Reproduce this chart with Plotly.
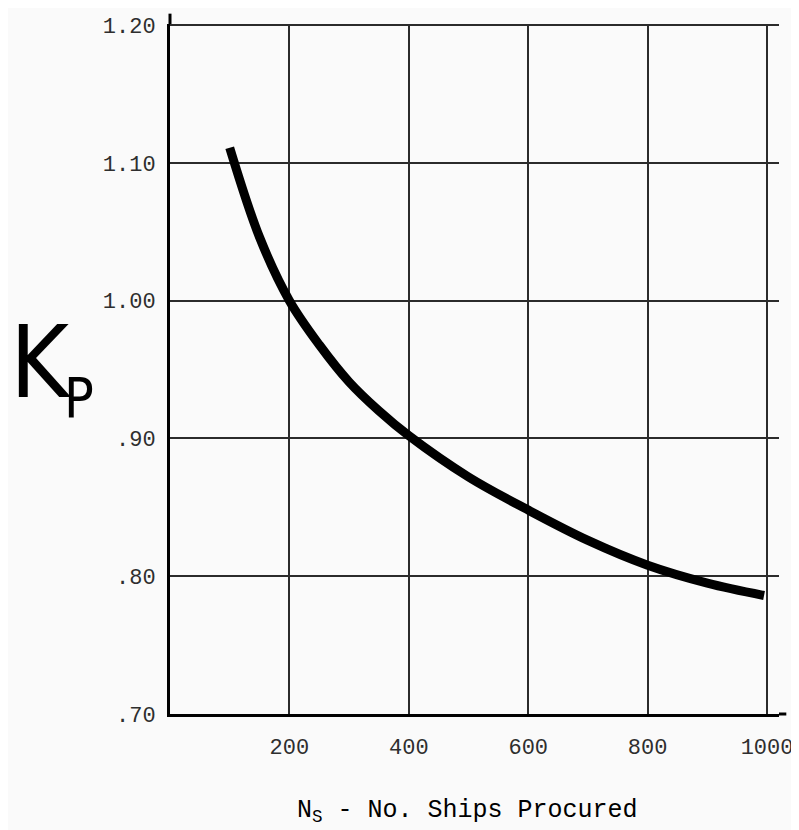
import plotly.graph_objects as go

# Data
ships = [100, 150, 200, 250, 300, 350, 400, 500, 600, 700, 800, 900, 995]
kp = [1.111, 1.046, 1.000, 0.968, 0.941, 0.920, 0.902, 0.872, 0.848, 0.826, 0.808, 0.795, 0.786]

x_ticks = [200, 400, 600, 800, 1000]
x_tick_labels = ["200", "400", "600", "800", "1000"]
y_ticks = [0.70, 0.80, 0.90, 1.00, 1.10, 1.20]
y_tick_labels = [".70", ".80", ".90", "1.00", "1.10", "1.20"]

fig = go.Figure()
fig.add_trace(go.Scatter(
    x=ships, y=kp, mode="lines",
    line=dict(color="black", width=9, shape="spline", smoothing=1.0),
    showlegend=False, hoverinfo="skip",
))

tick_font = dict(family="Liberation Mono, DejaVu Sans Mono, monospace", size=22, color="#2e2e2e")

fig.update_layout(
    width=791, height=822,
    margin=dict(l=162, r=20, t=16, b=116),
    paper_bgcolor="#fafafa", plot_bgcolor="#fafafa",
    xaxis=dict(
        range=[0, 1020], tickmode="array", tickvals=x_ticks, ticktext=x_tick_labels,
        showgrid=True, gridcolor="#2b2b2b", gridwidth=2,
        showline=True, linecolor="black", linewidth=3,
        zeroline=False, ticks="", tickfont=tick_font, ticklabelstandoff=11,
        automargin=False, fixedrange=True,
    ),
    yaxis=dict(
        range=[0.70, 1.2008], tickmode="array", tickvals=y_ticks, ticktext=y_tick_labels,
        showgrid=True, gridcolor="#2b2b2b", gridwidth=2,
        showline=True, linecolor="black", linewidth=3,
        zeroline=False, ticks="", tickfont=tick_font, ticklabelstandoff=7,
        automargin=False, fixedrange=True,
    ),
    annotations=[
        dict(
            text="N<sub>S</sub> - No. Ships Procured",
            xref="paper", yref="paper", x=0.488, y=-0.142,
            xanchor="center", yanchor="middle", showarrow=False,
            font=dict(family="Liberation Mono, Courier New, monospace", size=25, color="black"),
        ),
        dict(
            text="K",
            xref="paper", yref="paper", x=-0.266, y=0.509,
            xanchor="left", yanchor="middle", showarrow=False,
            font=dict(family="DejaVu Sans Condensed, Liberation Sans Narrow, Roboto, sans-serif",
                      size=100, color="black"),
        ),
        dict(
            text="P",
            xref="paper", yref="paper", x=-0.149, y=0.458,
            xanchor="center", yanchor="middle", showarrow=False,
            font=dict(family="DejaVu Sans Condensed, Liberation Sans Narrow, Roboto, sans-serif",
                      size=55, color="black"),
        ),
    ],
    shapes=[
        dict(type="line", xref="paper", yref="paper", x0=0, x1=0, y0=1, y1=1.015,
             line=dict(color="black", width=3)),
        dict(type="line", xref="paper", yref="paper", x0=1, x1=1.012, y0=0, y1=0,
             line=dict(color="black", width=3)),
    ],
)

fig.write_html("out.html")
